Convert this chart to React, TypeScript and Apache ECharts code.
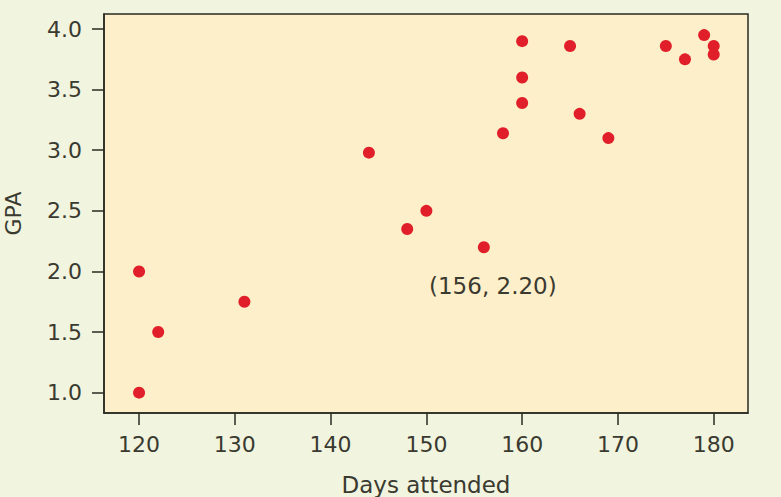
import React, { useEffect, useRef } from "react";
import * as echarts from "echarts";

const days: number[] = [120, 120, 122, 131, 144, 148, 150, 156, 158, 160, 160, 160, 165, 166, 169, 175, 177, 179, 180, 180];
const gpa: number[] = [2.0, 1.0, 1.5, 1.75, 2.98, 2.35, 2.5, 2.2, 3.14, 3.9, 3.6, 3.39, 3.86, 3.3, 3.1, 3.86, 3.75, 3.95, 3.86, 3.79];
const xTicks: number[] = [120, 130, 140, 150, 160, 170, 180];
const yTicks: number[] = [1.0, 1.5, 2.0, 2.5, 3.0, 3.5, 4.0];
const highlight: number[] = [156, 2.2];
const highlightLabel = "(156, 2.20)";

const FONT = "'DejaVu Sans', 'Open Sans', sans-serif";
const TEXT = "#3a3a30";

export default function App() {
  const ref = useRef<HTMLDivElement>(null);
  useEffect(() => {
    if (!ref.current) return;
    const chart = echarts.init(ref.current, undefined, { renderer: "svg" });
    chart.setOption({
      animation: false,
      backgroundColor: "#f1f4de",
      grid: {
        left: 104,
        top: 14,
        right: 33,
        bottom: 84,
        containLabel: false,
        outerBoundsMode: "none",
        show: true,
        backgroundColor: "#fdefc9",
        borderColor: "#2a2a22",
        borderWidth: 1.5,
      },
      xAxis: {
        type: "value",
        min: 116.34,
        max: 183.58,
        name: "Days attended",
        nameLocation: "middle",
        nameGap: 60,
        nameTextStyle: { fontFamily: FONT, fontSize: 23, color: TEXT, lineHeight: 23 },
        axisLine: { show: true, lineStyle: { color: "#2a2a22", width: 1.5 } },
        axisTick: { show: true, length: 12, lineStyle: { color: "#2a2a22", width: 1.5 }, customValues: xTicks },
        axisLabel: { margin: 20, fontFamily: FONT, fontSize: 22, color: TEXT, customValues: xTicks },
        splitLine: { show: false },
      },
      yAxis: {
        type: "value",
        min: 0.832,
        max: 4.124,
        name: "GPA",
        nameLocation: "middle",
        nameGap: 80,
        nameTextStyle: { fontFamily: FONT, fontSize: 22, color: TEXT },
        axisLine: { show: true, lineStyle: { color: "#2a2a22", width: 1.5 } },
        axisTick: { show: true, length: 12, lineStyle: { color: "#2a2a22", width: 1.5 }, customValues: yTicks },
        axisLabel: {
          margin: 22,
          fontFamily: FONT,
          fontSize: 22,
          color: TEXT,
          customValues: yTicks,
          formatter: (v: number) => v.toFixed(1),
        },
        splitLine: { show: false },
      },
      series: [
        {
          type: "scatter",
          data: days.map((d, i) => [d, gpa[i]]),
          symbol: "circle",
          symbolSize: 12,
          itemStyle: { color: "#e01f2a", opacity: 1 },
          markPoint: {
            symbol: "circle",
            symbolSize: 0,
            data: [{ coord: highlight }],
            label: {
              show: true,
              formatter: highlightLabel,
              position: "inside",
              offset: [9, 39],
              fontFamily: FONT,
              fontSize: 23,
              color: TEXT,
            },
          },
        },
      ],
    });
    return () => chart.dispose();
  }, []);
  return <div ref={ref} style={{ width: 781, height: 497, position: "absolute", left: 0, top: 0 }} />;
}
